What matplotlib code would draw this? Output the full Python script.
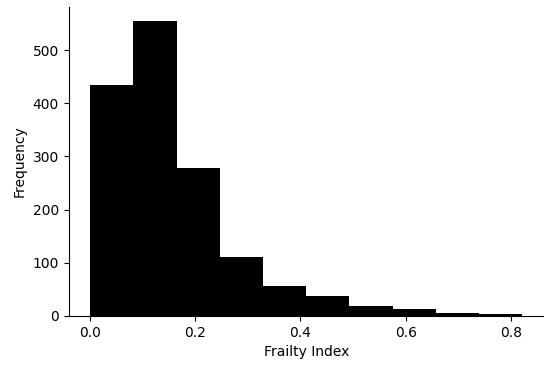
import matplotlib
matplotlib.use("Agg")
import matplotlib.pyplot as plt
import numpy as np

# histogram
bin_edges = np.linspace(0.0, 0.822, 11)
counts = [434, 554, 278, 111, 56, 37, 19, 14, 5, 4]

centers = (bin_edges[:-1] + bin_edges[1:]) / 2

fig, ax = plt.subplots(figsize=(5.44, 3.70), dpi=100)
ax.hist(centers, bins=bin_edges, weights=counts, color="black")
ax.spines["top"].set_visible(False)
ax.spines["right"].set_visible(False)
ax.set_xlabel("Frailty Index")
ax.set_ylabel("Frequency")
ax.set_xticks([0.0, 0.2, 0.4, 0.6, 0.8])
fig.subplots_adjust(left=0.126, right=1.0, top=0.982, bottom=0.146)
plt.savefig("out.png")
